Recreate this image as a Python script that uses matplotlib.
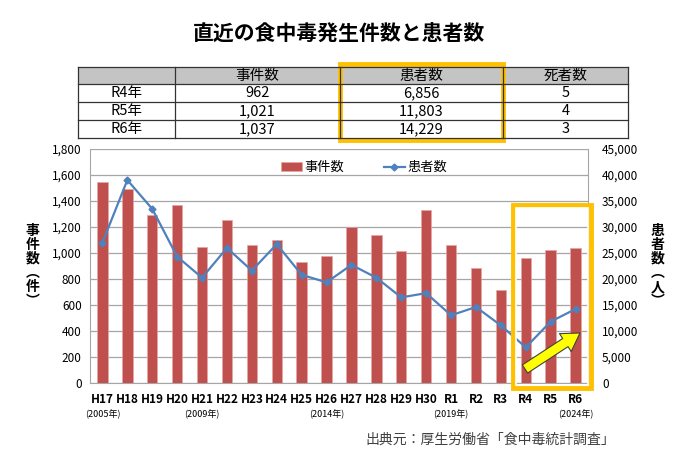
import matplotlib.pyplot as plt
from matplotlib.patches import Rectangle
from matplotlib.lines import Line2D
import numpy as np

plt.rcParams['font.family'] = ['Noto Sans CJK JP', 'DejaVu Sans']

# data
years = ['H17', 'H18', 'H19', 'H20', 'H21', 'H22', 'H23', 'H24', 'H25', 'H26',
         'H27', 'H28', 'H29', 'H30', 'R1', 'R2', 'R3', 'R4', 'R5', 'R6']
cases = [1545, 1491, 1289, 1369, 1048, 1254, 1062, 1100, 931, 976,
         1202, 1139, 1014, 1330, 1061, 887, 717, 962, 1021, 1037]
patients = [27019, 39026, 33477, 24303, 20249, 25972, 21616, 26699, 20802, 19355,
            22718, 20252, 16464, 17282, 13018, 14613, 11080, 6856, 11803, 14229]
west_years = {'H17': '(2005年)', 'H21': '(2009年)', 'H26': '(2014年)',
              'R1': '(2019年)', 'R6': '(2024年)'}

table_cols = ['事件数', '患者数', '死者数']
table_rows = ['R4年', 'R5年', 'R6年']
table_cases = ['962', '1,021', '1,037']
table_patients = ['6,856', '11,803', '14,229']
table_deaths = ['5', '4', '3']

bar_color = '#C0504D'
line_color = '#4F81BD'
box_color = '#FFC000'

fig = plt.figure(figsize=(6.79, 4.72), dpi=100)
W, H = 679, 472


def fx(px):
    return px / W


def fy(py):
    return 1 - py / H


fig.text(0.5, fy(33), '直近の食中毒発生件数と患者数', ha='center', va='center',
         fontsize=15, fontweight='bold')

# --- table ---
col_edges = [78, 175, 340, 503, 628]
row_edges = [67, 84, 102, 120, 138]
fig.patches.append(Rectangle((fx(78), fy(84)), fx(628 - 78), fy(67) - fy(84),
                             transform=fig.transFigure, fc='#C4C4C4', ec='none'))
for y in row_edges:
    fig.add_artist(Line2D([fx(78), fx(628)], [fy(y), fy(y)], color='#333333', lw=0.9))
for x in col_edges:
    fig.add_artist(Line2D([fx(x), fx(x)], [fy(67), fy(138)], color='#333333', lw=0.9))

cells = [table_rows, table_cases, table_patients, table_deaths]
for j, name in enumerate(table_cols):
    cx = (col_edges[j + 1] + col_edges[j + 2]) / 2
    fig.text(fx(cx), fy(76), name, ha='center', va='center', fontsize=10.5)
for j, col in enumerate(cells):
    cx = (col_edges[j] + col_edges[j + 1]) / 2
    for i, val in enumerate(col):
        cy = (row_edges[i + 1] + row_edges[i + 2]) / 2
        fig.text(fx(cx), fy(cy), val, ha='center', va='center', fontsize=10.5)

fig.patches.append(Rectangle((fx(340), fy(140)), fx(503 - 340), fy(64) - fy(140),
                             transform=fig.transFigure, fc='none', ec=box_color, lw=3.5))

# --- chart ---
ax = fig.add_axes([fx(90), fy(383), fx(588 - 90), fy(149) - fy(383)])
x = np.arange(len(years))
ax.bar(x, cases, width=0.42, color=bar_color, edgecolor='#E6A6A4', lw=0.5, zorder=2,
       label='事件数')
ax.set_xlim(-0.5, len(years) - 0.5)
ax.set_ylim(0, 1800)
ax.set_yticks(np.arange(0, 1801, 200))
ax.set_yticklabels([f'{v:,}' for v in range(0, 1801, 200)], fontsize=8.5)
ax.grid(axis='y', color='#A6A6A6', lw=0.9, zorder=0)
ax.set_axisbelow(True)
ax.set_xticks(x)
ax.set_xticklabels(years, fontsize=8.5, fontweight='bold')
ax.tick_params(length=0, pad=6)
ax.tick_params(axis='x', pad=7)
ax.spines['top'].set_visible(False)
for s in ['left', 'right', 'bottom']:
    ax.spines[s].set_color('#A6A6A6')

for i, y in enumerate(years):
    if y in west_years:
        ax.text(i, -0.135, west_years[y], transform=ax.get_xaxis_transform(),
                ha='center', va='center', fontsize=6.5)

ax2 = ax.twinx()
ax2.plot(x, patients, color=line_color, lw=1.6, marker='D', ms=3.5, zorder=3,
         label='患者数')
ax2.set_ylim(0, 45000)
ax2.set_yticks(np.arange(0, 45001, 5000))
ax2.set_yticklabels([f'{v:,}' for v in range(0, 45001, 5000)], fontsize=8.5)
ax2.tick_params(length=0, pad=10)
for s in ['left', 'right', 'bottom', 'top']:
    ax2.spines[s].set_visible(False)

ax.set_ylabel('事\n件\n数\n︵\n件\n︶', rotation=0, fontsize=10, fontweight='bold',
              linespacing=1.0, va='center', labelpad=14)
ax2.set_ylabel('患\n者\n数\n︵\n人\n︶', rotation=0, fontsize=10, fontweight='bold',
               linespacing=1.0, va='center', labelpad=14)

handles = [ax.containers[0].patches[0], ax2.lines[0]]
ax2.legend(handles, ['事件数', '患者数'], loc='center', bbox_to_anchor=(0.55, 0.92),
           ncol=2, frameon=False, fontsize=9.5, handlelength=1.6, columnspacing=3.0,
           handletextpad=0.2)

# highlight of recent years
fig.patches.append(Rectangle((fx(513), fy(388)), fx(591 - 513), fy(205) - fy(388),
                             transform=fig.transFigure, fc='none', ec=box_color, lw=3.5,
                             zorder=5))
fig.patches.append(Rectangle((fx(516), fy(385)), fx(588 - 516), fy(208) - fy(385),
                             transform=fig.transFigure, fc='none', ec='white', lw=1.2,
                             zorder=5))
ax.annotate('', xy=(580, H - 333), xytext=(525, H - 369), xycoords='figure pixels',
            textcoords='figure pixels',
            arrowprops=dict(arrowstyle='simple,head_length=0.9,head_width=1.1,tail_width=0.5',
                            fc='#FFFF00', ec='#404040', lw=0.8, mutation_scale=14,
                            shrinkA=0, shrinkB=0))

fig.text(fx(615), fy(440), '出典元：厚生労働省「食中毒統計調査」', ha='right', va='center',
         fontsize=10, color='#404040')

fig.savefig('out.png', dpi=100)
